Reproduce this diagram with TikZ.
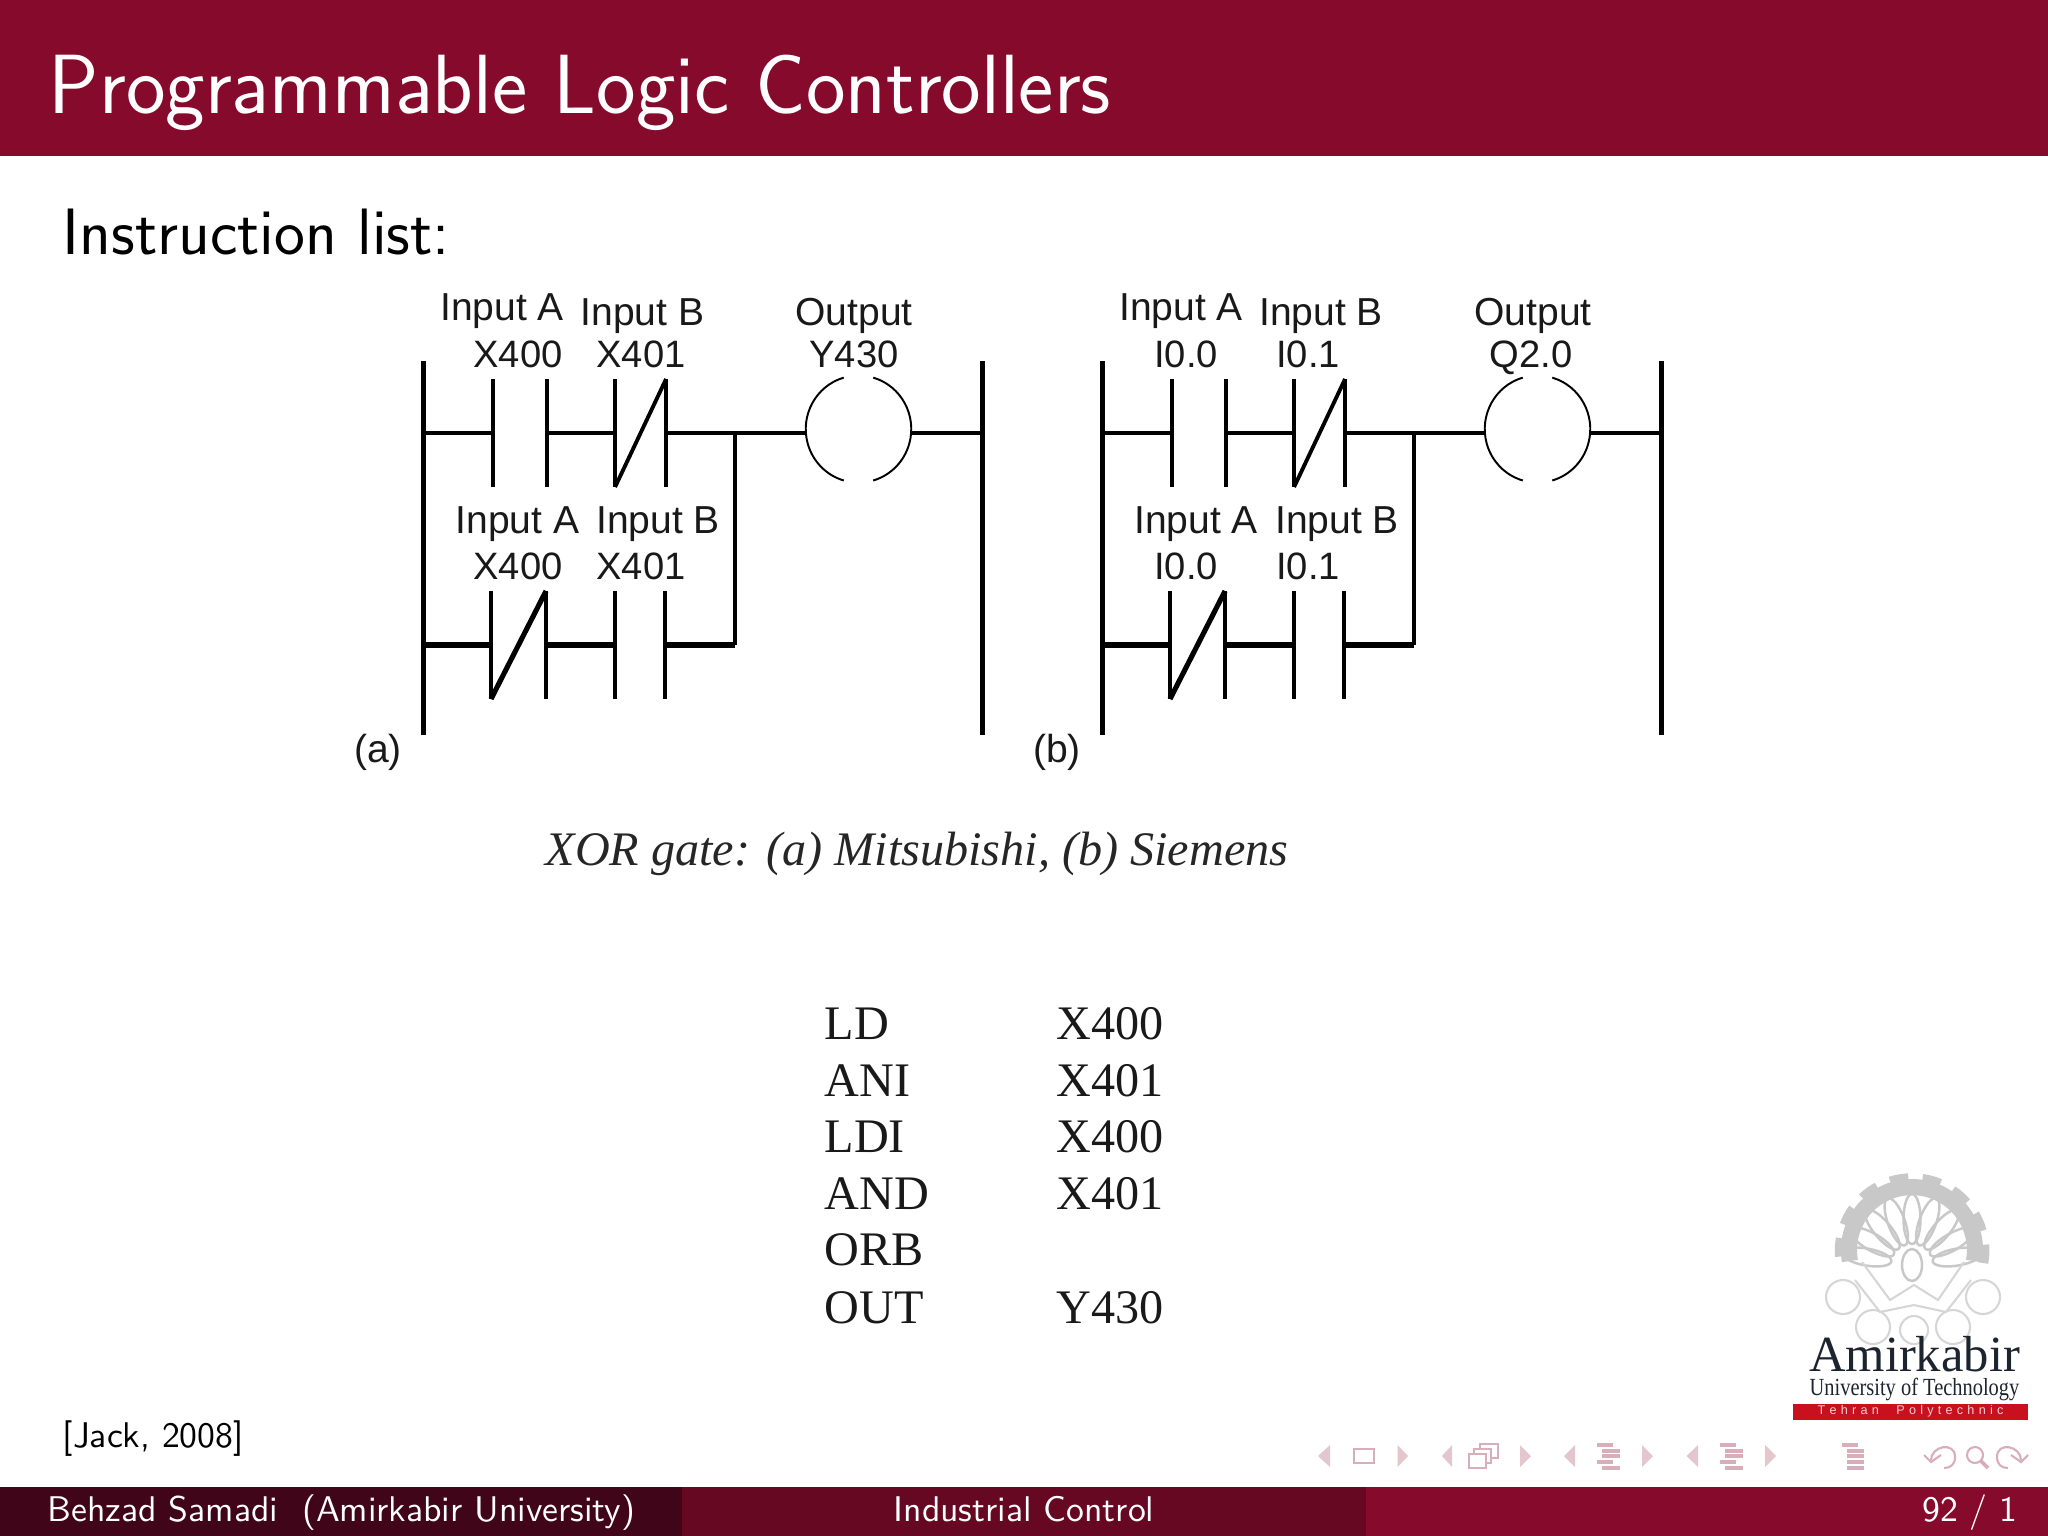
\documentclass[tikz,border=0pt]{standalone}
\usepackage{fontspec}
\usetikzlibrary{shapes.geometric}
\newfontfamily\arialfont{Liberation Sans}
\newfontfamily\timesfont{Liberation Serif}
\definecolor{barred}{HTML}{850A2B}
\definecolor{barmid}{HTML}{660822}
\definecolor{bardark}{HTML}{400518}
\definecolor{navpink}{HTML}{D9AEBB}
\definecolor{logogray}{HTML}{C8C8C8}
\definecolor{logoink}{HTML}{1C2430}
\definecolor{logored}{HTML}{C8101E}

\begin{document}
\begin{tikzpicture}[x=0.01cm,y=-0.01cm,
	rail/.style={rectangle, fill=black, inner sep=0pt, outer sep=0pt, minimum width=5*0.01cm, minimum height=3.74cm},
	plate/.style={rectangle, fill=black, inner sep=0pt, outer sep=0pt, minimum width=4*0.01cm, minimum height=1.08cm},
	wire/.style={line width=1.1pt},
	wirethick/.style={line width=1.45pt},
	coil/.style={line width=0.55pt},
	coilbox/.style={ellipse, inner sep=0pt, outer sep=0pt, minimum width=1.05cm, minimum height=1.07cm},
	lbl/.style={anchor=base, inner sep=0pt, font=\arialfont\fontsize{11.1}{13}\selectfont, text=black!90},
	idlbl/.style={anchor=base, inner sep=0pt, font=\arialfont\fontsize{10.85}{13}\selectfont, text=black!90},
	tablbl/.style={anchor=base west, inner sep=0pt, font=\timesfont\fontsize{13.7}{15}\selectfont, text=black!90},
	footlbl/.style={anchor=base, inner sep=0pt, text=white, font=\sffamily\fontsize{10.15}{12}\selectfont},
	petal/.style={draw=logogray, line width=0.7pt},
	ring/.style={draw=logogray!75, line width=0.6pt},
	navtip/.style={fill=navpink!70, draw=none},
	navline/.style={draw=navpink, line width=0.6pt}]

	\useasboundingbox (0,0) rectangle (2048,1536);
	\fill[barred] (0,0) rectangle (2048,156);
	\fill[bardark] (0,1487) rectangle (682,1536);
	\fill[barmid] (682,1487) rectangle (1366,1536);
	\fill[barred] (1366,1487) rectangle (2048,1536);

	\node[anchor=base west, inner sep=0pt, text=white, font=\sffamily\fontsize{23.9}{27}\selectfont] (title) at (48,113) {Programmable Logic Controllers};
	\node[anchor=base west, inner sep=0pt, font=\sffamily\fontsize{18.65}{22}\selectfont] (intro) at (62,254) {Instruction list:};
	\node[anchor=base west, inner sep=0pt, font=\sffamily\fontsize{10.15}{12}\selectfont] (cite) at (62,1447) {[Jack, 2008]};
	\node[footlbl, anchor=base west] (footl) at (47,1521) {Behzad Samadi\ \ (Amirkabir University)};
	\node[footlbl] (footm) at (1024,1521) {Industrial Control};
	\node[footlbl, anchor=base east] (footr) at (2018,1521) {92 / 1};

	\node[rail] (aL) at (423,548) {};
	\node[rail] (aR) at (982,548) {};
	\coordinate (aL1) at (423,433);
	\coordinate (aL2) at (423,645);
	\coordinate (aR1) at (982,433);
	\coordinate (aJ1) at (735,433);
	\coordinate (aJ2) at (735,645);
	\node[plate] (aA) at (493,433) {};
	\node[plate] (aB) [right of=aA, node distance=0.535cm] {};
	\node[plate] (aC) [right of=aB, node distance=0.685cm] {};
	\node[plate] (aD) [right of=aC, node distance=0.51cm] {};
	\node[plate] (aE) at (491,645) {};
	\node[plate] (aF) [right of=aE, node distance=0.55cm] {};
	\node[plate] (aG) [right of=aF, node distance=0.69cm] {};
	\node[plate] (aH) [right of=aG, node distance=0.50cm] {};
	\node[coilbox] (aY) at (858.5,429) {};
	\draw[coil] (aY.106) arc (-106:-254:52.5 and 53.5);
	\draw[coil] (aY.74) arc (-74:74:52.5 and 53.5);
	\draw[wire] (aC.south) -- (aD.north);
	\draw[wirethick] (aE.south) -- (aF.north);
	\path[wire] (aL1) edge (aA)
				(aB) edge (aC)
				(aD) edge (aJ1)
				(aJ1) edge (aJ1 -| aY.west)
				(aR1 -| aY.east) edge (aR1)
				(aJ1) edge (aJ2);
	\path[wirethick] (aL2) edge (aE)
				(aF) edge (aG)
				(aH) edge (aJ2);

	\node[lbl] (aT1) at (502,320) {Input A};
	\node[lbl] (aT2) at (642.5,325) {Input B};
	\node[lbl] (aT3) at (854,325) {Output};
	\node[idlbl] (aN1) at (518,367) {X400};
	\node[idlbl] (aN2) at (641,367) {X401};
	\node[idlbl] (aN3) at (854,367) {Y430};
	\node[lbl] (aT4) at (517.5,533) {Input A};
	\node[lbl] (aT5) at (658,533) {Input B};
	\node[idlbl] (aN4) at (518,579) {X400};
	\node[idlbl] (aN5) at (641,579) {X401};
	\node[lbl] (aP) at (378,762) {(a)};

	\node[rail] (bL) at (1102,548) {};
	\node[rail] (bR) at (1661,548) {};
	\coordinate (bL1) at (1102,433);
	\coordinate (bL2) at (1102,645);
	\coordinate (bR1) at (1661,433);
	\coordinate (bJ1) at (1414,433);
	\coordinate (bJ2) at (1414,645);
	\node[plate] (bA) at (1172,433) {};
	\node[plate] (bB) [right of=bA, node distance=0.535cm] {};
	\node[plate] (bC) [right of=bB, node distance=0.685cm] {};
	\node[plate] (bD) [right of=bC, node distance=0.51cm] {};
	\node[plate] (bE) at (1170,645) {};
	\node[plate] (bF) [right of=bE, node distance=0.55cm] {};
	\node[plate] (bG) [right of=bF, node distance=0.69cm] {};
	\node[plate] (bH) [right of=bG, node distance=0.50cm] {};
	\node[coilbox] (bY) at (1537.5,429) {};
	\draw[coil] (bY.106) arc (-106:-254:52.5 and 53.5);
	\draw[coil] (bY.74) arc (-74:74:52.5 and 53.5);
	\draw[wire] (bC.south) -- (bD.north);
	\draw[wirethick] (bE.south) -- (bF.north);
	\path[wire] (bL1) edge (bA)
				(bB) edge (bC)
				(bD) edge (bJ1)
				(bJ1) edge (bJ1 -| bY.west)
				(bR1 -| bY.east) edge (bR1)
				(bJ1) edge (bJ2);
	\path[wirethick] (bL2) edge (bE)
				(bF) edge (bG)
				(bH) edge (bJ2);

	\node[lbl] (bT1) at (1181,320) {Input A};
	\node[lbl] (bT2) at (1321,325) {Input B};
	\node[lbl] (bT3) at (1533,325) {Output};
	\node[idlbl] (bN1) at (1186,367) {I0.0};
	\node[idlbl] (bN2) at (1308,367) {I0.1};
	\node[idlbl] (bN3) at (1531,367) {Q2.0};
	\node[lbl] (bT4) at (1196,533) {Input A};
	\node[lbl] (bT5) at (1337,533) {Input B};
	\node[idlbl] (bN4) at (1186,579) {I0.0};
	\node[idlbl] (bN5) at (1308,579) {I0.1};
	\node[lbl] (bP) at (1057,762) {(b)};

	\node[anchor=base, inner sep=0pt, font=\timesfont\itshape\fontsize{13.7}{15}\selectfont, text=black!85] (cap) at (917,865) {XOR gate: (a) Mitsubishi, (b) Siemens};

	\node[tablbl] (op1) at (824,1039) {LD};
	\node[tablbl] (op2) at (824,1096) {ANI};
	\node[tablbl] (op3) at (824,1152) {LDI};
	\node[tablbl] (op4) at (824,1209) {AND};
	\node[tablbl] (op5) at (824,1265) {ORB};
	\node[tablbl] (op6) at (824,1323) {OUT};
	\node[tablbl] (ar1) at (1056,1039) {X400};
	\node[tablbl] (ar2) at (1056,1096) {X401};
	\node[tablbl] (ar3) at (1056,1152) {X400};
	\node[tablbl] (ar4) at (1056,1209) {X401};
	\node[tablbl] (ar6) at (1056,1323) {Y430};

	\draw[logogray, line width=4.6pt] (1974,1261) arc (10:-190:63);
	\draw[logogray, line width=3pt, dash pattern=on 5.2pt off 4pt] (1983,1263) arc (10:-190:72);
	\foreach \ang in {-80,-60,...,80}
		\draw[petal, shift={(1912,1265)}, rotate=\ang] (0,-46) ellipse (8.5 and 25);
	\draw[petal] (1912,1265) ellipse (10 and 16);
	\draw[ring] (1843,1297) circle (17);
	\draw[ring] (1983,1297) circle (17);
	\draw[ring] (1873,1327) circle (17);
	\draw[ring] (1953,1327) circle (17);
	\draw[ring] (1914,1330) circle (14);
	\draw[ring] (1855,1280) -- (1880,1312) -- (1914,1305) -- (1946,1312) -- (1971,1280);
	\draw[ring] (1862,1262) -- (1890,1300) -- (1914,1285) -- (1938,1300) -- (1964,1262);
	\node[anchor=base, inner sep=0pt, text=logoink, font=\timesfont\fontsize{14.4}{16}\selectfont] (logoa) at (1914.5,1371) {Amirkabir};
	\node[anchor=base, inner sep=0pt, text=logoink, font=\timesfont\fontsize{7}{8}\selectfont] (logob) at (1914.5,1395) {\scalebox{0.83}[1]{University of Technology}};
	\node[rectangle, fill=logored, minimum width=2.35cm, minimum height=0.16cm, inner sep=0pt, text=white!80!logored, font=\arialfont\fontsize{3.6}{4}\selectfont] (logoc) at (1910.5,1411.5) {T\,\,e\,\,h\,\,r\,\,a\,\,n\ \ \ \ \ P\,\,o\,\,l\,\,y\,\,t\,\,e\,\,c\,\,h\,\,n\,\,i\,\,c};

	\foreach \xa/\xb in {1318/1330,1442/1452,1564/1575,1686.5/1698}
		\fill[navtip] (\xb,1445) -- (\xa,1456) -- (\xb,1467) -- cycle;
	\foreach \xa/\xb in {1397.5/1408,1520/1531,1642/1653,1765/1776}
		\fill[navtip] (\xa,1445) -- (\xb,1456) -- (\xa,1467) -- cycle;
	\draw[navline] (1354,1449) rectangle (1374,1463);
	\draw[navline] (1469,1454) rectangle (1486,1468);
	\draw[navline] (1474,1454) -- (1474,1449) -- (1491,1449) -- (1491,1463) -- (1486,1463);
	\draw[navline] (1480,1449) -- (1480,1444) -- (1498,1444) -- (1498,1458) -- (1491,1458);
	\foreach \ya/\xa/\xb in {1445/1597/1613,1451/1602/1620,1456/1602/1620,1462/1597/1613,1468/1602/1620,
		1445/1720/1736,1451/1725/1743,1456/1725/1743,1462/1720/1736,1468/1725/1743,
		1445/1842/1858,1451/1847/1864,1456/1847/1864,1462/1847/1864,1468/1847/1864}
		\draw[navline, line width=1pt] (\xa,\ya) -- (\xb,\ya);
	\draw[navline] (1931,1460) .. controls (1931,1446) and (1955,1441) .. (1955,1457) .. controls (1955,1465) and (1950,1468) .. (1944,1468);
	\draw[navline] (1924,1455) -- (1931,1462) -- (1941,1455);
	\draw[navline] (1975,1455) circle (8);
	\draw[navline, line width=1.1pt] (1981,1461) -- (1988,1468);
	\draw[navline] (2021,1460) .. controls (2021,1446) and (1997,1441) .. (1997,1457) .. controls (1997,1465) and (2002,1468) .. (2008,1468);
	\draw[navline] (2028,1455) -- (2021,1462) -- (2011,1455);
\end{tikzpicture}
\end{document}
